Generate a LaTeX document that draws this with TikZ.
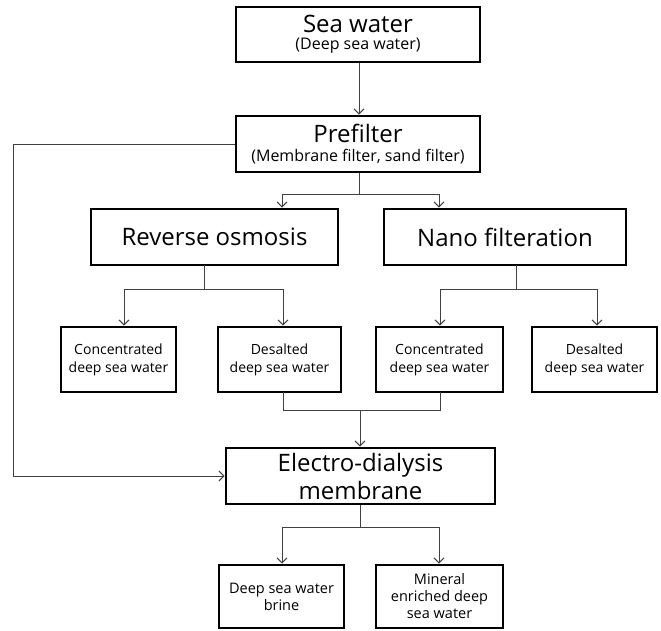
\documentclass[tikz,border=0pt]{standalone}
\usepackage{fontspec}
\setmainfont{Open Sans}
\usetikzlibrary{arrows.meta}
\tikzset{
  box/.style={draw=black, line width=2.8pt, align=center, inner sep=0pt, fill=white},
  bigbox/.style={box, minimum height=56pt},
  smallbox/.style={box, minimum height=65pt, font=\fontsize{14}{18}\selectfont},
  conn/.style={draw=black!75, line width=1pt},
  arr/.style={conn, -{Straight Barb[length=5pt,width=10pt,line width=1pt]}},
  big/.style={font=\fontsize{24}{28}\selectfont}
}
\begin{document}
\begin{tikzpicture}[x=1pt,y=-1pt]
\useasboundingbox (0,0) rectangle (661,630);
% main boxes
\node[bigbox, minimum width=244pt, minimum height=55pt] (sea) at (358,34.5)
  {\fontsize{24}{24}\selectfont Sea water\\[5pt]\fontsize{16}{17}\selectfont (Deep sea water)};
\node[bigbox, minimum width=244pt] (pre) at (358,144)
  {\fontsize{24}{24}\selectfont Prefilter\\[5pt]\fontsize{16}{17}\selectfont (Membrane filter, sand filter)};
\node[bigbox, big, minimum width=247pt] (ro) at (214.5,237) {Reverse osmosis};
\node[bigbox, big, minimum width=242pt] (nf) at (505,237) {Nano filteration};
\node[smallbox, minimum width=115pt] (c1) at (118.5,359.5) {Concentrated\\deep sea water};
\node[smallbox, minimum width=123pt] (d1) at (279.5,359.5) {Desalted\\deep sea water};
\node[smallbox, minimum width=127pt] (c2) at (439.5,359.5) {Concentrated\\deep sea water};
\node[smallbox, minimum width=125pt] (d2) at (594.5,359.5) {Desalted\\deep sea water};
\node[bigbox, big, minimum width=269pt] (ed) at (360.5,476) {Electro-dialysis\\membrane};
\node[smallbox, minimum width=125pt, minimum height=63pt, font=\fontsize{14.5}{17}\selectfont] (br) at (281.5,596.5) {Deep sea water\\brine};
\node[smallbox, minimum width=127pt, minimum height=63pt, font=\fontsize{14.5}{17}\selectfont] (mn) at (439.5,596.5) {Mineral\\enriched deep\\sea water};
% junction coordinates
\coordinate (j1) at (359,194);
\coordinate (j1l) at (282,194);
\coordinate (j1r) at (439,194);
\coordinate (j2t) at (204,265);
\coordinate (j2) at (204,289);
\coordinate (j2l) at (124,289);
\coordinate (j2r) at (283,289);
\coordinate (j3t) at (516,265);
\coordinate (j3) at (516,289);
\coordinate (j3l) at (440,289);
\coordinate (j3r) at (597,289);
\coordinate (m1t) at (283,392);
\coordinate (m1) at (283,410);
\coordinate (m2t) at (440,392);
\coordinate (m2) at (440,410);
\coordinate (mc) at (360,410);
\coordinate (j4) at (360,527);
\coordinate (j4l) at (282,527);
\coordinate (j4r) at (439,527);
\coordinate (lt) at (13,144);
\coordinate (lb) at (13,476);
% connectors
\draw[arr] (sea.south -| j1) -- (pre.north -| j1);
\draw[conn] (pre.south -| j1) -- (j1);
\draw[arr] (j1) -- (j1l) -- (ro.north -| j1l);
\draw[arr] (j1) -- (j1r) -- (nf.north -| j1r);
\draw[conn] (j2t) -- (j2);
\draw[arr] (j2) -- (j2l) -- (c1.north -| j2l);
\draw[arr] (j2) -- (j2r) -- (d1.north -| j2r);
\draw[conn] (j3t) -- (j3);
\draw[arr] (j3) -- (j3l) -- (c2.north -| j3l);
\draw[arr] (j3) -- (j3r) -- (d2.north -| j3r);
\draw[conn] (m1t) -- (m1) -- (m2) -- (m2t);
\draw[arr] (mc) -- (ed.north -| mc);
\draw[conn] (ed.south -| j4) -- (j4);
\draw[arr] (j4) -- (j4l) -- (br.north -| j4l);
\draw[arr] (j4) -- (j4r) -- (mn.north -| j4r);
\draw[arr] (pre.west) -- (lt) -- (lb) -- (ed.west);
\end{tikzpicture}
\end{document}
